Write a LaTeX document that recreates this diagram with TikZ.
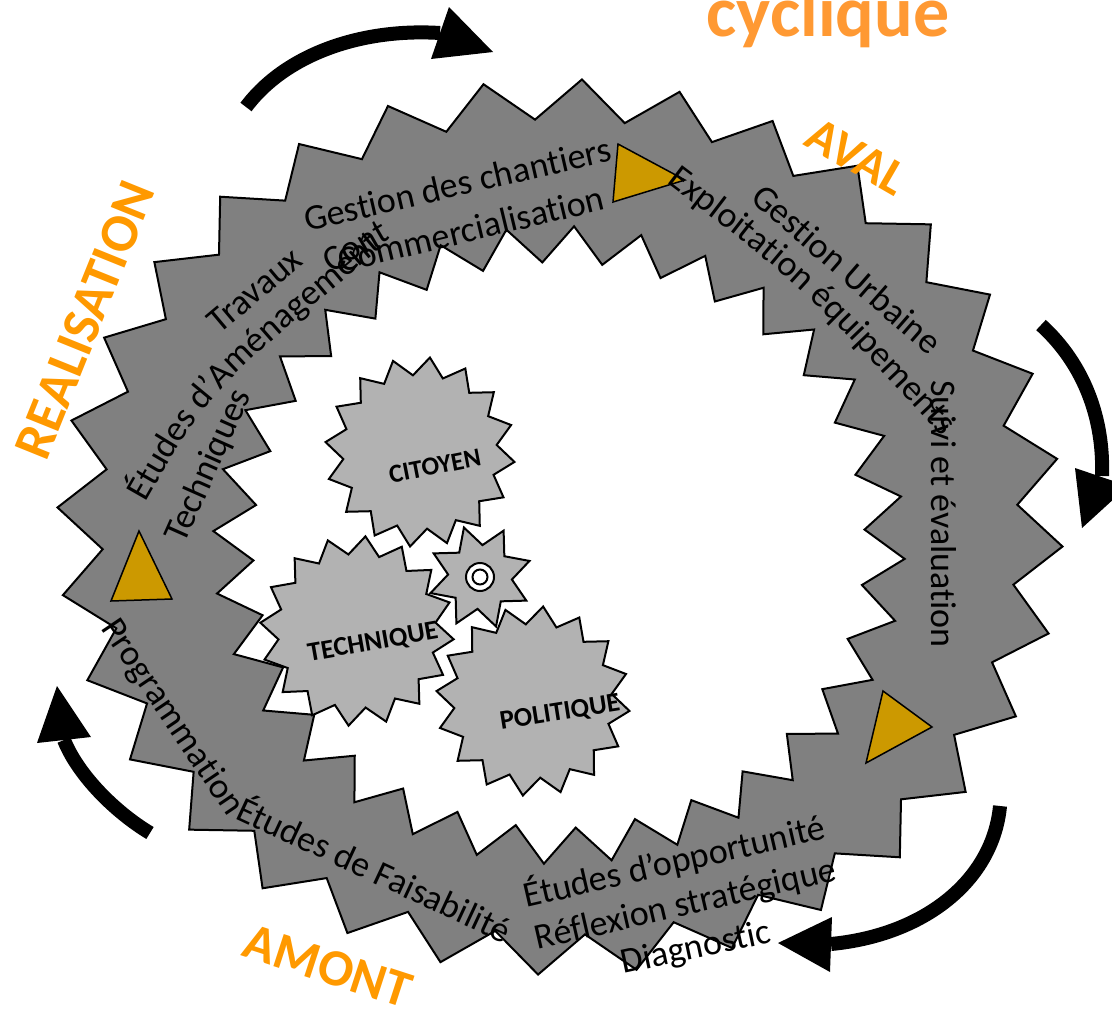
\documentclass[tikz,border=0pt]{standalone}
\usepackage{fontspec}
\setmainfont{Carlito}[Ligatures=NoCommon]
\usetikzlibrary{decorations.text}
\definecolor{ringgray}{RGB}{128,128,128}
\definecolor{geargray}{RGB}{178,178,178}
\definecolor{goldtri}{RGB}{204,153,0}
\definecolor{orangelab}{RGB}{255,153,0}
\definecolor{orangetitle}{RGB}{255,153,51}
% star polygon: cx cy lastindex halfstep rxo ryo rxi ryi phase
\newcommand{\mystar}[9]{plot[variable=\starIdx, samples at={0,...,#3}] ({#1+((#5)*(1-mod(\starIdx,2))+(#7)*mod(\starIdx,2))*cos(#9+\starIdx*#4)}, {#2-((#6)*(1-mod(\starIdx,2))+(#8)*mod(\starIdx,2))*sin(#9+\starIdx*#4)}) -- cycle}
\tikzset{
  ringshape/.style={fill=ringgray, draw=black, line width=2pt, line join=miter},
  holeshape/.style={fill=white, draw=black, line width=2pt, line join=miter},
  gearshape/.style={fill=geargray, draw=black, line width=2pt, line join=miter},
  goldshape/.style={fill=goldtri, draw=black, line width=1.5pt, line join=miter},
  arrowbody/.style={draw=black, line width=14pt, line cap=butt},
  arrowhead/.style={fill=black},
  lbl/.style={font=\fontsize{36}{43}\selectfont, inner sep=0pt, anchor=base, text=black},
  gearlbl/.style={font=\bfseries\fontsize{27}{32}\selectfont, inner sep=0pt, text=black},
  phaselbl/.style={text=orangelab, inner sep=0pt}
}
\begin{document}
\begin{tikzpicture}[x=1pt, y=-1pt]
\useasboundingbox (0,0) rectangle (1112,1012);
\clip (0,0) rectangle (1112,1012);
% ring
\path[ringshape] \mystar{560}{527}{63}{5.625}{503}{448}{458}{408}{-2.5};
\path[holeshape] \mystar{559}{545}{63}{5.625}{346}{319}{306}{283}{-2.5};
% gold triangles
\path[goldshape] (618,144) -- (685,180) -- (613,202) -- cycle;
\path[goldshape] (139,531) -- (172,599) -- (111,601) -- cycle;
\path[goldshape] (883,691) -- (932,727) -- (866,763) -- cycle;
% gears
\path[gearshape] \mystar{420}{452}{31}{11.25}{95}{95}{77}{77}{84};
\path[gearshape] \mystar{357}{631}{31}{11.25}{97}{95}{79}{77}{85};
\path[gearshape] \mystar{533}{701}{31}{11.25}{97}{95}{79}{77}{84};
\path[gearshape] \mystar{480}{577}{15}{22.5}{52}{52}{32}{32}{18};
\node[circle, fill=white, draw=black, line width=2pt, minimum size=28pt, inner sep=0pt] (hubout) at (480,577) {};
\node[circle, draw=black, line width=2pt, minimum size=15pt, inner sep=0pt] (hubin) at (480,577) {};
\node[gearlbl, rotate=11, font=\bfseries\fontsize{26}{30}\selectfont] (citoyen) at (435,466) {CITOYEN};
\node[gearlbl, rotate=10] (technique) at (373,643) {TECHNIQUE};
\node[gearlbl, rotate=9] (politique) at (560,713) {POLITIQUE};
% ring texts
\node[lbl, rotate=13] (gchant) at (460,196) {Gestion des chantiers};
\node[lbl, rotate=30] (cont) at (361,256) {Cont};
\node[lbl, rotate=13.5] (comm) at (474,241) {Commercialisation};
\node[lbl, rotate=40] (trav) at (262,299) {Travaux};
\node[lbl, rotate=66] (techn) at (218,470) {Techniques};
\node[lbl, rotate=-41] (gurb) at (839,278) {Gestion Urbaine};
\node[lbl, rotate=-90] (suivi) at (931,514) {Suivi et évaluation};
\node[lbl, rotate=-56] (prog) at (164,723) {Programmation};
\node[lbl, rotate=-25] (faisa) at (369,881) {Études de Faisabilité};
\node[lbl, rotate=13] (oppo) at (677,873) {Études d’opportunité};
\node[lbl, rotate=13] (refl) at (688,915) {Réflexion stratégique};
\node[lbl, rotate=12] (diag) at (698,958) {Diagnostic};
\path[decorate, decoration={text along path, text align=center,
  text={|\fontsize{36}{43}\selectfont|Études d’Aménagement}}]
  (135,520) -- (145,503) .. controls (208,393) .. (383,247) -- (398,234);
\path[decorate, decoration={text along path, text align=center,
  text={|\fontsize{36}{43}\selectfont|Exploitation équipements}}]
  (649,170) -- (665,182) .. controls (800,284) .. (943,437) -- (957,452);
% orange labels
\node[phaselbl, anchor=base, text=orangetitle, font=\bfseries\fontsize{72}{82}\selectfont] (cyc) at (828,36) {cyclique};
\node[phaselbl, rotate=-30, font=\bfseries\fontsize{50}{58}\selectfont] (aval) at (857,157) {AVAL};
\node[phaselbl, rotate=68, font=\bfseries\fontsize{54}{62}\selectfont] (real) at (85,320) {REALISATION};
\node[phaselbl, rotate=-18, font=\bfseries\fontsize{52}{60}\selectfont] (amont) at (328,966) {AMONT};
% arrows
\coordinate (a1s) at (246,107); \coordinate (a1e) at (440,33);
\draw[arrowbody] (a1s) .. controls (285,55) and (360,28) .. (a1e);
\path[arrowhead] (449,7) -- (493,52) -- (431,59) -- cycle;
\coordinate (a2s) at (1041,325); \coordinate (a2e) at (1102,476);
\draw[arrowbody] (a2s) .. controls (1085,365) and (1104,420) .. (a2e);
\path[arrowhead] (1075,468) -- (1128,486) -- (1082,528) -- cycle;
\coordinate (a3s) at (1000,806); \coordinate (a3e) at (831,944);
\draw[arrowbody] (a3s) .. controls (993,880) and (925,935) .. (a3e);
\path[arrowhead] (832,917) -- (778,943) -- (830,972) -- cycle;
\coordinate (a4s) at (150,833); \coordinate (a4e) at (64,740);
\draw[arrowbody] (a4s) .. controls (115,812) and (78,775) .. (a4e);
\path[arrowhead] (37,743) -- (57,686) -- (91,737) -- cycle;
\end{tikzpicture}
\end{document}
